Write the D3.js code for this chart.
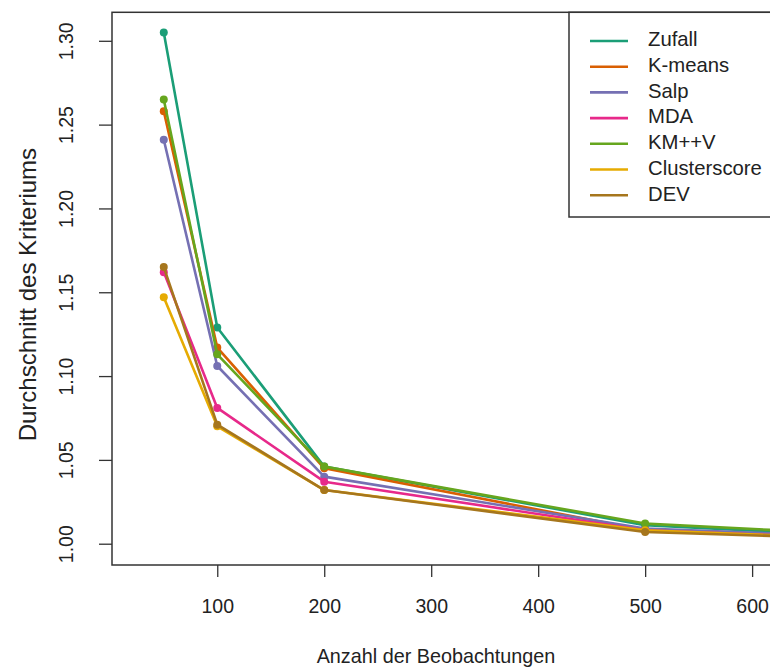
<!DOCTYPE html>
<html>
<head>
<meta charset="utf-8">
<script src="https://cdn.jsdelivr.net/npm/d3@7"></script>
<style>
  html, body { margin: 0; padding: 0; background: #fff; overflow: hidden; }
  svg { display: block; font-family: "Liberation Sans", Arial, sans-serif; }
</style>
</head>
<body>
<svg id="chart" width="770" height="669"></svg>
<script>
// ---- data ----
const observations = [50, 100, 200, 500, 750];
const seriesNames = ["Zufall", "K-means", "Salp", "MDA", "KM++V", "Clusterscore", "DEV"];
const zufall       = [1.305, 1.129, 1.046, 1.011, 1.003];
const kmeans       = [1.258, 1.117, 1.045, 1.008, 1.002];
const salp         = [1.241, 1.106, 1.040, 1.009, 1.003];
const mda          = [1.162, 1.081, 1.037, 1.008, 1.002];
const kmppv        = [1.265, 1.113, 1.046, 1.012, 1.004];
const clusterscore = [1.147, 1.070, 1.032, 1.008, 1.002];
const dev          = [1.165, 1.071, 1.032, 1.007, 1.002];
const xTicks = [100, 200, 300, 400, 500, 600];
const yTicks = [1.00, 1.05, 1.10, 1.15, 1.20, 1.25, 1.30];
const colors = ["#1B9E77", "#D95F02", "#7570B3", "#E7298A", "#66A61E", "#E6AB02", "#A6761D"];
const xTitle = "Anzahl der Beobachtungen";
const yTitle = "Durchschnitt des Kriteriums";

const allSeries = [zufall, kmeans, salp, mda, kmppv, clusterscore, dev];

// ---- layout ----
const svg = d3.select("#chart");
const mLeft = 112, mTop = 12.3, mBottom = 565, mRight = 1180;
const x = d3.scaleLinear().domain([1.6, 1000]).range([mLeft, mRight]);
const y = d3.scaleLinear().domain([0.9873, 1.317]).range([mBottom, mTop]);
const fontSize = 19.5;

// axes
const yAxis = svg.append("g").attr("transform", `translate(${mLeft},0)`)
  .call(d3.axisLeft(y).tickValues(yTicks).tickFormat(d3.format(".2f")).tickSize(13).tickSizeOuter(0));
yAxis.select(".domain").remove();
yAxis.selectAll(".tick line").attr("stroke", "#333").attr("stroke-width", 1.3);
yAxis.selectAll(".tick text")
  .attr("font-size", fontSize).attr("fill", "#222")
  .attr("transform", "rotate(-90)")
  .attr("x", 0).attr("dx", 0).attr("y", -39).attr("dy", 0)
  .attr("text-anchor", "middle");

const xAxis = svg.append("g").attr("transform", `translate(0,${mBottom})`)
  .call(d3.axisBottom(x).tickValues(xTicks).tickFormat(d3.format("d")).tickSize(12).tickSizeOuter(0));
xAxis.select(".domain").remove();
xAxis.selectAll(".tick line").attr("stroke", "#333").attr("stroke-width", 1.3);
xAxis.selectAll(".tick text").attr("font-size", fontSize).attr("fill", "#222").attr("y", 41).attr("dy", "0.35em");

// plot box
svg.append("rect").attr("x", mLeft).attr("y", mTop)
  .attr("width", mRight - mLeft).attr("height", mBottom - mTop)
  .attr("fill", "none").attr("stroke", "#333").attr("stroke-width", 1.5);

// titles
svg.append("text").attr("x", 436).attr("y", 658)
  .attr("text-anchor", "middle").attr("dominant-baseline", "middle")
  .attr("font-size", fontSize + 0.3).attr("fill", "#222").text(xTitle);
svg.append("text").attr("transform", `translate(30,${(mTop + mBottom) / 2 + 6}) rotate(-90)`)
  .attr("text-anchor", "middle").attr("dominant-baseline", "middle")
  .attr("font-size", 24).attr("fill", "#222").text(yTitle);

// series
const line = d3.line().x((d, i) => x(observations[i])).y(d => y(d));
svg.append("clipPath").attr("id", "plotclip")
  .append("rect").attr("x", mLeft).attr("y", mTop).attr("width", mRight - mLeft).attr("height", mBottom - mTop);
const plot = svg.append("g").attr("clip-path", "url(#plotclip)");
allSeries.forEach((vals, k) => {
  const g = plot.append("g");
  g.append("path").datum(vals).attr("d", line)
    .attr("fill", "none").attr("stroke", colors[k]).attr("stroke-width", 2.6)
    .attr("stroke-linejoin", "round");
  g.selectAll("circle").data(vals).join("circle")
    .attr("cx", (d, i) => x(observations[i])).attr("cy", d => y(d))
    .attr("r", 4).attr("fill", colors[k]);
});

// legend
const legTop = 12.3, legLeft = 569, legBottom = 217, rowH = 25.7;
svg.append("rect").attr("x", legLeft).attr("y", legTop)
  .attr("width", 400).attr("height", legBottom - legTop)
  .attr("fill", "#fff").attr("stroke", "#333").attr("stroke-width", 1.5);
seriesNames.forEach((name, k) => {
  const yy = 41 + k * rowH;
  svg.append("line").attr("x1", 590).attr("x2", 628).attr("y1", yy).attr("y2", yy)
    .attr("stroke", colors[k]).attr("stroke-width", 2.6);
  svg.append("text").attr("x", 648).attr("y", yy).attr("dominant-baseline", "middle")
    .attr("font-size", fontSize + 0.8).attr("fill", "#222").text(name);
});
</script>
</body>
</html>
